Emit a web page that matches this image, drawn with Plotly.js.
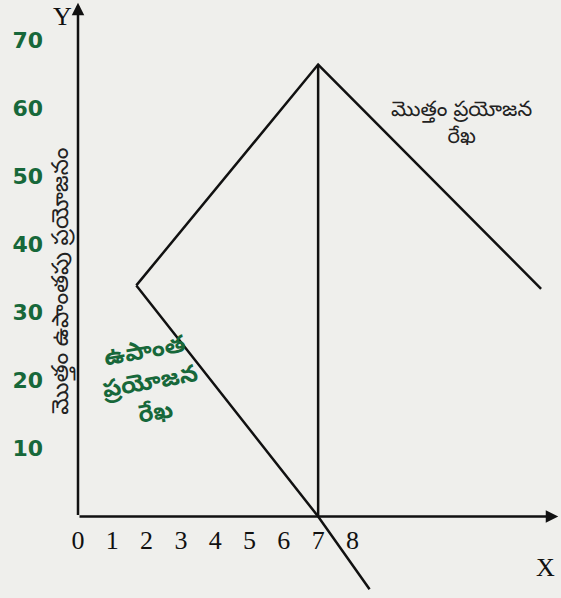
<!DOCTYPE html>
<html>
<head>
<meta charset="utf-8">
<script src="https://cdn.plot.ly/plotly-3.0.1.min.js"></script>
<style>html,body{margin:0;padding:0;background:#efefec;}</style>
</head>
<body>
<div id="chart" style="width:561px;height:598px;"></div>
<script>
// Units of the good (x) and utility (y)
const xTickVals = [0, 1, 2, 3, 4, 5, 6, 7, 8];
const xTickText = ["0", "1", "2", "3", "4", "5", "6", "7", "8"];
const yTickVals = [10, 20, 30, 40, 50, 60, 70];
const yTickText = ["10", "20", "30", "40", "50", "60", "70"];

// Total utility curve (rises to a peak at 7 units, then falls)
const totalX = [1.7, 7, 13.5];
const totalY = [34, 66.5, 33.5];

// Marginal utility curve (falls, reaches zero at 7 units, becomes negative)
const marginalX = [1.7, 7, 8.5];
const marginalY = [34, 0, -10.7];

// Vertical line at maximum total utility
const peakX = [7, 7];
const peakY = [0, 66.5];

const yTitle = "మొత్తం ఉపాంతపు ప్రయోజనం";
const totalLabel = "మొత్తం ప్రయోజన<br>రేఖ";
const marginalLabel = "ఉపాంత<br>ప్రయోజన<br>రేఖ";

const lineStyle = {color: "#111", width: 2.5};
const teluguFont = "Noto Sans Telugu, Noto Sans, sans-serif";
const serifFont = "Liberation Serif, Times New Roman, serif";
const green = "#17683a";

const traces = [
  {x: totalX, y: totalY, mode: "lines", line: lineStyle, hoverinfo: "skip"},
  {x: marginalX, y: marginalY, mode: "lines", line: lineStyle, hoverinfo: "skip"},
  {x: peakX, y: peakY, mode: "lines", line: lineStyle, hoverinfo: "skip"}
];

const layout = {
  width: 561, height: 598,
  margin: {l: 78, r: 0, t: 0, b: 0},
  paper_bgcolor: "#efefec",
  plot_bgcolor: "#efefec",
  showlegend: false,
  xaxis: {
    range: [0, 14.08],
    anchor: "free",
    position: 12 / 88,
    showgrid: false, zeroline: false, showline: false,
    tickvals: xTickVals, ticktext: xTickText,
    ticks: "",
    ticklabelstandoff: 6,
    tickfont: {family: serifFont, size: 26, color: "#111"}
  },
  yaxis: {
    range: [-12, 76],
    showgrid: false, zeroline: false, showline: false,
    tickvals: yTickVals, ticktext: yTickText,
    ticks: "",
    ticklabelstandoff: 34,
    tickfont: {family: "DejaVu Sans, sans-serif", size: 22, color: green, weight: "bold"}
  },
  annotations: [
    // Y axis arrow
    {x: 0, y: 75.6, ax: 0, ay: 0, xref: "x", yref: "y", axref: "x", ayref: "y",
     showarrow: true, arrowhead: 2, arrowsize: 1, arrowwidth: 2.5, arrowcolor: "#111", text: ""},
    // X axis arrow
    {x: 14.0, y: 0, ax: 0, ay: 0, xref: "x", yref: "y", axref: "x", ayref: "y",
     showarrow: true, arrowhead: 2, arrowsize: 1, arrowwidth: 2.5, arrowcolor: "#111", text: ""},
    {x: -0.033, y: 73.5, xref: "paper", yref: "y", xanchor: "center", text: "Y", showarrow: false,
     font: {family: serifFont, size: 26, color: "#111"}},
    {x: 0.967, y: -7.5, xref: "paper", yref: "y", xanchor: "center", text: "X", showarrow: false,
     font: {family: serifFont, size: 26, color: "#111"}},
    {x: -0.029, y: 34.7, xref: "paper", yref: "y", xanchor: "center", yanchor: "middle",
     text: yTitle, textangle: -90, showarrow: false,
     font: {family: teluguFont, size: 23, color: "#222"}},
    {x: 11.17, y: 57.6, xref: "x", yref: "y", text: totalLabel, showarrow: false,
     font: {family: teluguFont, size: 21, color: "#222"}, align: "center"},
    {x: 2.1, y: 19.4, xref: "x", yref: "y", text: marginalLabel, showarrow: false, textangle: -10,
     font: {family: teluguFont, size: 24, color: green, weight: "bold"}, align: "center"}
  ]
};

Plotly.newPlot("chart", traces, layout, {displayModeBar: false, staticPlot: true});
</script>
</body>
</html>
